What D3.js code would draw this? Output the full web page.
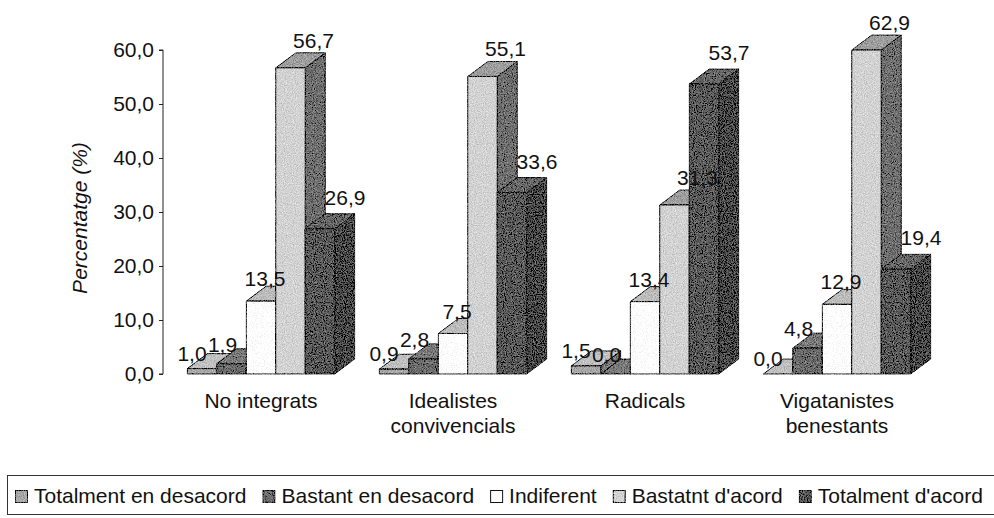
<!DOCTYPE html>
<html>
<head>
<meta charset="utf-8">
<script src="https://cdn.jsdelivr.net/npm/d3@7/dist/d3.min.js"></script>
<style>
  html, body { margin: 0; padding: 0; background: #fff; }
  svg { display: block; font-family: "Liberation Sans", Arial, sans-serif; }
</style>
</head>
<body>
<div id="chart"></div>
<script>
// categories (tick labels split in lines)
const categories = ["No integrats", "Idealistes convivencials", "Radicals", "Vigatanistes benestants"];
const categoryLines = [["No integrats"], ["Idealistes", "convivencials"], ["Radicals"], ["Vigatanistes", "benestants"]];
const seriesNames = ["Totalment en desacord", "Bastant en desacord", "Indiferent", "Bastatnt d'acord", "Totalment d'acord"];

// values per series, one per category
const totalmentDesacord = [1.0, 0.9, 1.5, 0.0];
const bastantDesacord = [1.9, 2.8, 0.0, 4.8];
const indiferent = [13.5, 7.5, 13.4, 12.9];
const bastantAcord = [56.7, 55.1, 31.3, 62.9];
const totalmentAcord = [26.9, 33.6, 53.7, 19.4];
const seriesValues = [totalmentDesacord, bastantDesacord, indiferent, bastantAcord, totalmentAcord];

const yTicks = [0, 10, 20, 30, 40, 50, 60];

const W = 994, H = 518;
const depth = { dx: 20, dy: -15 };
// face colours per series: front, top, side
const faces = [
  { front: "#a8a8a8", top: "#c0c0c0", side: "#7a7a7a" },
  { front: "#6a6a6a", top: "#7a7a7a", side: "#565656" },
  { front: "#ffffff", top: "#bcbcbc", side: "#cfcfcf" },
  { front: "#d2d2d2", top: "#9e9e9e", side: "#6e6e6e" },
  { front: "#595959", top: "#666666", side: "#474747" }
];
// label nudges per series (px from front-top centre)
const labelDx = [-10, -9, 4, 23, 25];
const labelDy = [-8, -12, -15, -20, -24];
const fmt = v => d3.format(".1f")(v).replace(".", ",");

const svg = d3.select("#chart").append("svg")
  .attr("width", W).attr("height", H);

// speckle texture like the printed halftone
const defs = svg.append("defs");
const grain = defs.append("filter").attr("id", "grain")
  .attr("filterUnits", "userSpaceOnUse")
  .attr("x", 0).attr("y", 0).attr("width", W).attr("height", H);
grain.append("feTurbulence").attr("type", "fractalNoise").attr("baseFrequency", 0.9)
  .attr("numOctaves", 2).attr("seed", 4).attr("result", "noise");
grain.append("feColorMatrix").attr("in", "noise").attr("type", "matrix")
  .attr("values", "1 0 0 0 0  1 0 0 0 0  1 0 0 0 0  0 0 0 0 1").attr("result", "gray");
grain.append("feComposite").attr("in", "SourceGraphic").attr("in2", "gray")
  .attr("operator", "arithmetic").attr("k1", 0).attr("k2", 1).attr("k3", 0.6).attr("k4", -0.3)
  .attr("result", "mix");
grain.append("feComposite").attr("in", "mix").attr("in2", "SourceGraphic").attr("operator", "in");

// Scales
const x0 = d3.scaleBand().domain(categories).range([165, 933])
  .paddingInner(0.232).paddingOuter(0.116);
const x1 = d3.scaleBand().domain(seriesNames).range([0, x0.bandwidth()]);
const y = d3.scaleLinear().domain([0, 60]).range([374, 50]).clamp(true);

// Y axis
const yAxis = d3.axisLeft(y).tickValues(yTicks).tickFormat(fmt).tickSize(4).tickPadding(5);
svg.append("g")
  .attr("transform", "translate(163,0)")
  .call(yAxis)
  .call(g => g.select(".domain").attr("stroke", "#222").attr("d", `M-4,${y(60)}H0V${y(0)}H-4`))
  .call(g => g.selectAll(".tick line").attr("stroke", "#222"))
  .call(g => g.selectAll(".tick text")
    .attr("fill", "#111")
    .style("font-size", "21px")
    .style("font-family", "'Liberation Sans', Arial, sans-serif"));

svg.append("text")
  .attr("transform", "translate(87,218) rotate(-90)")
  .attr("text-anchor", "middle")
  .style("font-size", "21px")
  .style("font-style", "italic")
  .attr("fill", "#111")
  .text("Percentatge (%)");

// Bars
const bars = svg.append("g").attr("filter", "url(#grain)");
const base = y(0);
categories.forEach((cat, ci) => {
  seriesNames.forEach((s, si) => {
    const v = seriesValues[si][ci];
    const bx = x0(cat) + x1(s), bw = x1.bandwidth(), yt = y(v);
    const f = faces[si];
    const g = bars.append("g")
      .attr("stroke", "#111").attr("stroke-width", 1).attr("stroke-linejoin", "round");
    // side face
    g.append("path")
      .attr("fill", f.side)
      .attr("d", `M${bx + bw},${yt}L${bx + bw + depth.dx},${yt + depth.dy}L${bx + bw + depth.dx},${base + depth.dy}L${bx + bw},${base}Z`);
    // top face
    g.append("path")
      .attr("fill", f.top)
      .attr("d", `M${bx},${yt}L${bx + depth.dx},${yt + depth.dy}L${bx + bw + depth.dx},${yt + depth.dy}L${bx + bw},${yt}Z`);
    // front face
    g.append("rect")
      .attr("x", bx).attr("y", yt).attr("width", bw).attr("height", base - yt)
      .attr("fill", f.front);
  });
});

// Value labels
const labels = svg.append("g")
  .style("font-size", "21px").attr("fill", "#111").attr("text-anchor", "middle");
categories.forEach((cat, ci) => {
  seriesNames.forEach((s, si) => {
    const v = seriesValues[si][ci];
    labels.append("text")
      .attr("x", x0(cat) + x1(s) + x1.bandwidth() / 2 + labelDx[si])
      .attr("y", y(v) + labelDy[si])
      .text(fmt(v));
  });
});

// Category labels
const catG = svg.append("g")
  .style("font-size", "21px").attr("fill", "#111").attr("text-anchor", "middle");
categories.forEach((cat, ci) => {
  const t = catG.append("text")
    .attr("x", x0(cat) + x0.bandwidth() / 2)
    .attr("y", 408);
  categoryLines[ci].forEach((line, li) => {
    t.append("tspan")
      .attr("x", x0(cat) + x0.bandwidth() / 2)
      .attr("dy", li === 0 ? 0 : 25)
      .text(line);
  });
});

// Legend
svg.append("rect")
  .attr("x", 7.5).attr("y", 475.5).attr("width", 992).attr("height", 39)
  .attr("fill", "none").attr("stroke", "#333").attr("stroke-width", 1);
const legend = svg.append("g");
let lx = 15;
seriesNames.forEach((s, si) => {
  legend.append("rect")
    .attr("x", lx + 0.5).attr("y", 490.5).attr("width", 12).attr("height", 12)
    .attr("fill", faces[si].front)
    .attr("stroke", "#111")
    .attr("filter", si === 2 ? null : "url(#grain)");
  const t = legend.append("text")
    .attr("x", lx + 19).attr("y", 503)
    .style("font-size", "21px").attr("fill", "#111")
    .text(s);
  lx += 19 + t.node().getComputedTextLength() + 16;
});
</script>
</body>
</html>
